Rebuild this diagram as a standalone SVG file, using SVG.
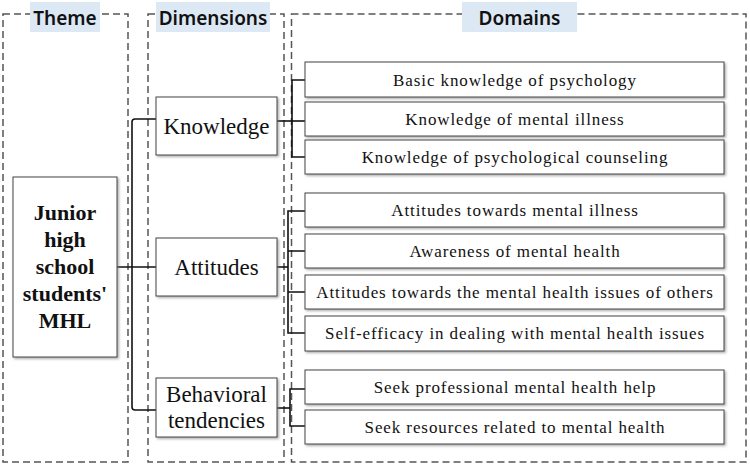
<svg xmlns="http://www.w3.org/2000/svg" width="750" height="465" viewBox="0 0 750 465">
<defs>
<filter id="sh" x="-10%" y="-10%" width="130%" height="140%">
<feDropShadow dx="1.5" dy="1.5" stdDeviation="1" flood-color="#777" flood-opacity="0.6"/>
</filter>
<style>
.panel{fill:none;stroke:#555;stroke-width:1.5;stroke-dasharray:7 4}
.lab{fill:#dde8f5}
.head{font-family:"Noto Sans","Open Sans",sans-serif;font-size:19px;font-weight:600;fill:#111;text-anchor:middle}
.box{fill:#fff;stroke:#444;stroke-width:1;filter:url(#sh)}
.serif{font-family:'Liberation Serif','Tinos','Nimbus Roman','DejaVu Serif',serif}
.dim{font-size:23px;fill:#111;text-anchor:middle}
.dom{font-size:17px;letter-spacing:0.9px;fill:#111;text-anchor:middle}
.theme{font-size:22px;font-weight:bold;fill:#111;text-anchor:middle}
.con{fill:none;stroke:#111;stroke-width:1.6}
</style>
</defs>
<g id="panels">
<rect class="panel" x="3" y="14" width="125" height="448"/>
<rect class="panel" x="148" y="14" width="136" height="448"/>
<rect class="panel" x="291.5" y="14" width="454.5" height="448"/>
<rect class="lab" x="30" y="2" width="70" height="30"/>
<rect class="lab" x="156" y="2" width="114" height="30"/>
<rect class="lab" x="462" y="2" width="115" height="30"/>
<text class="head" x="65" y="25">Theme</text>
<text class="head" x="213" y="25">Dimensions</text>
<text class="head" x="519.5" y="25">Domains</text>
</g>
<g id="connectors">
<path class="con" d="M117 267H156"/>
<path class="con" d="M156 119H135Q132 119 132 122V407Q132 410 135 410H156"/>
<path class="con" d="M277 121H305"/>
<path class="con" d="M305 80H292V157H305"/>
<path class="con" d="M277 267H288"/>
<path class="con" d="M305 211H288V333H305M288 251H305M288 292H305"/>
<path class="con" d="M277 408H290"/>
<path class="con" d="M305 389H290V426H305"/>
</g>
<g id="theme">
<rect class="box" x="13" y="177" width="104" height="180"/>
<text class="theme" font-family="Liberation Serif, Tinos, serif" x="65" y="220">Junior</text>
<text class="theme" font-family="Liberation Serif, Tinos, serif" x="65" y="247">high</text>
<text class="theme" font-family="Liberation Serif, Tinos, serif" x="65" y="274">school</text>
<text class="theme" font-family="Liberation Serif, Tinos, serif" x="65" y="301">students'</text>
<text class="theme" font-family="Liberation Serif, Tinos, serif" x="65" y="328">MHL</text>
</g>
<g id="knowledge">
<rect class="box" x="156" y="97" width="121" height="58"/>
<text class="dim serif" x="216.5" y="134">Knowledge</text>
</g>
<g id="attitudes">
<rect class="box" x="156" y="238" width="121" height="58"/>
<text class="dim serif" x="216.5" y="275">Attitudes</text>
</g>
<g id="behavioral">
<rect class="box" x="156" y="378" width="121" height="59"/>
<text class="dim serif" x="216.5" y="402">Behavioral</text>
<text class="dim serif" x="216.5" y="428">tendencies</text>
</g>
<g id="d1"><rect class="box" x="305" y="62" width="419" height="35"/><text class="dom serif" x="515" y="86">Basic knowledge of psychology</text></g>
<g id="d2"><rect class="box" x="305" y="102" width="419" height="34"/><text class="dom serif" x="515" y="125">Knowledge of mental illness</text></g>
<g id="d3"><rect class="box" x="305" y="140" width="419" height="34"/><text class="dom serif" x="515" y="163">Knowledge of psychological counseling</text></g>
<g id="d4"><rect class="box" x="305" y="193" width="419" height="34"/><text class="dom serif" x="515" y="216">Attitudes towards mental illness</text></g>
<g id="d5"><rect class="box" x="305" y="234" width="419" height="34"/><text class="dom serif" x="515" y="257">Awareness of mental health</text></g>
<g id="d6"><rect class="box" x="305" y="275" width="419" height="34"/><text class="dom serif" x="515" y="298">Attitudes towards the mental health issues of others</text></g>
<g id="d7"><rect class="box" x="305" y="316" width="419" height="35"/><text class="dom serif" x="515" y="339">Self-efficacy in dealing with mental health issues</text></g>
<g id="d8"><rect class="box" x="305" y="370" width="419" height="34"/><text class="dom serif" x="515" y="393">Seek professional mental health help</text></g>
<g id="d9"><rect class="box" x="305" y="410" width="419" height="34"/><text class="dom serif" x="515" y="433">Seek resources related to mental health</text></g>
</svg>
